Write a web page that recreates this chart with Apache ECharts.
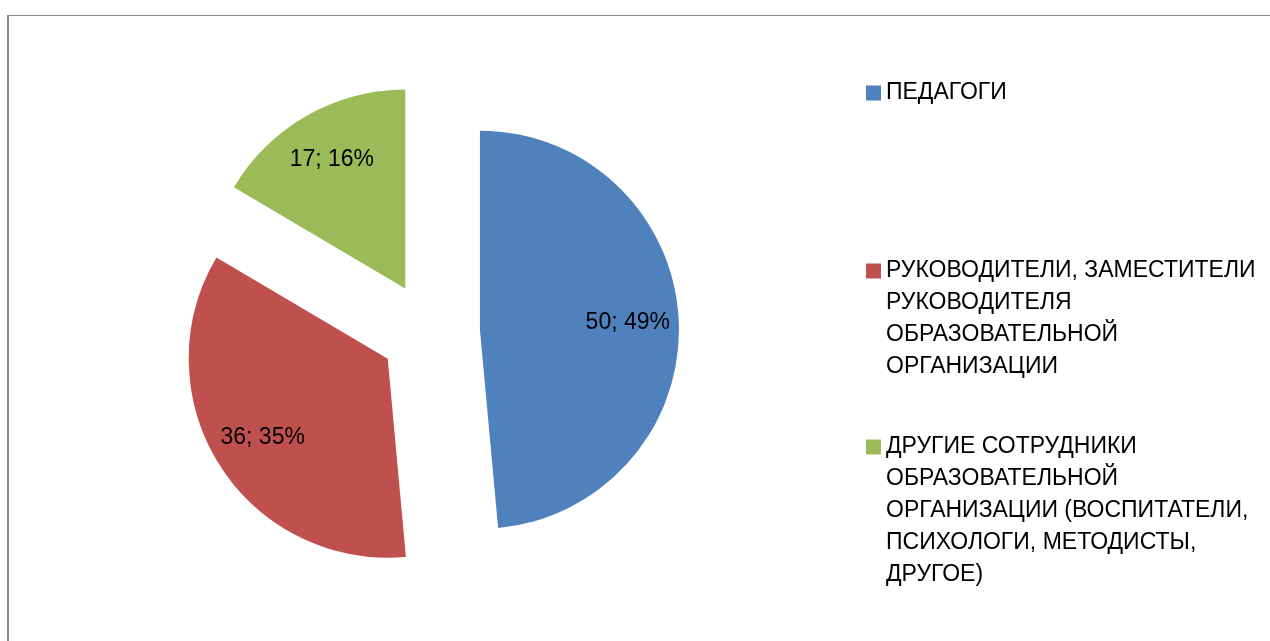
<!DOCTYPE html>
<html>
<head>
<meta charset="utf-8">
<script src="https://cdn.jsdelivr.net/npm/echarts@6/dist/echarts.min.js"></script>
<style>
html,body{margin:0;padding:0;background:#fff;}
#chart{width:1270px;height:641px;}
</style>
</head>
<body>
<div id="chart"></div>
<script>
const categories = [
  'ПЕДАГОГИ',
  'РУКОВОДИТЕЛИ, ЗАМЕСТИТЕЛИ\nРУКОВОДИТЕЛЯ\nОБРАЗОВАТЕЛЬНОЙ\nОРГАНИЗАЦИИ',
  'ДРУГИЕ СОТРУДНИКИ\nОБРАЗОВАТЕЛЬНОЙ\nОРГАНИЗАЦИИ (ВОСПИТАТЕЛИ,\nПСИХОЛОГИ, МЕТОДИСТЫ,\nДРУГОЕ)'
];
const values = [50, 36, 17];
const colors = ['#4F81BD', '#C0504D', '#9BBB59'];

const FONT = "'Liberation Sans', Arial, sans-serif";
const LH = 32;
const legendTops = [77, 159, 303];

const data = categories.map((name, i) => ({
  name: name,
  value: values[i],
  selected: true,
  itemStyle: { color: colors[i] }
}));
const labelData = categories.map((name, i) => ({
  name: name,
  value: values[i],
  selected: true
}));

const legends = categories.map((name, i) => {
  const n = name.split('\n').length;
  return {
    data: [name],
    orient: 'vertical',
    left: 866,
    top: legendTops[i],
    padding: 0,
    itemWidth: 15,
    itemHeight: 15,
    itemGap: 0,
    icon: 'rect',
    selectedMode: false,
    formatter: function (nm) { return '\n'.repeat(n - 1) + nm; },
    textStyle: {
      fontFamily: FONT,
      fontSize: 23,
      color: '#000',
      lineHeight: LH
    }
  };
});

const chart = echarts.init(document.getElementById('chart'));
chart.setOption({
  animation: false,
  backgroundColor: '#fff',
  legend: legends,
  graphic: [
    { type: 'line', shape: { x1: 8, y1: 15, x2: 8, y2: 700 }, style: { stroke: '#8c8c8c', lineWidth: 2 } },
    { type: 'line', shape: { x1: 7, y1: 15.5, x2: 1300, y2: 15.5 }, style: { stroke: '#8c8c8c', lineWidth: 1.2 } }
  ],
  series: [
    {
      type: 'pie',
      center: [430, 332],
      radius: [0, 199],
      startAngle: 90,
      clockwise: true,
      selectedMode: 'multiple',
      selectedOffset: 50,
      percentPrecision: 0,
      label: { show: false },
      labelLine: { show: false },
      emphasis: { scale: false },
      data: data
    },
    {
      type: 'pie',
      z: 5,
      center: [430, 332],
      radius: [91, 199],
      startAngle: 90,
      clockwise: true,
      selectedMode: 'multiple',
      selectedOffset: 50,
      percentPrecision: 0,
      silent: true,
      legendHoverLink: false,
      itemStyle: { color: 'transparent' },
      label: {
        show: true,
        position: 'inside',
        formatter: '{c}; {d}%',
        color: '#000',
        fontFamily: FONT,
        fontSize: 23
      },
      labelLine: { show: false },
      data: labelData
    }
  ]
});
</script>
</body>
</html>
